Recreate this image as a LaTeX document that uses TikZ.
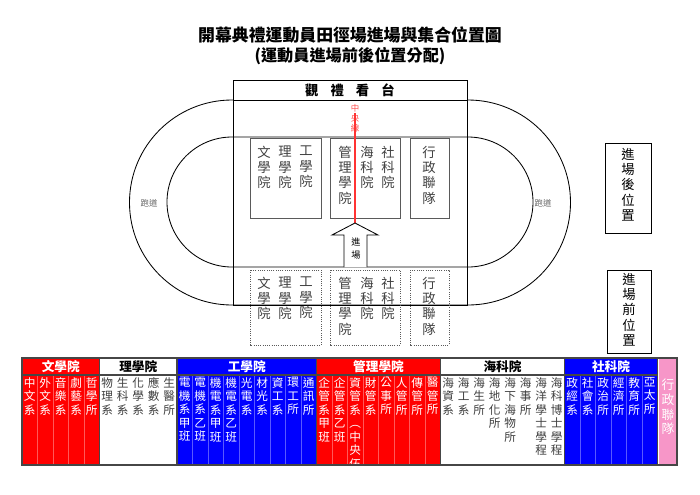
\documentclass[tikz,border=0pt]{standalone}
\usepackage{fontspec}
\setmainfont{Noto Sans CJK TC}
\usetikzlibrary{positioning}
\definecolor{fieldGray}{RGB}{90, 90, 90}
\definecolor{tableRed}{RGB}{255, 0, 0}
\definecolor{tableBlue}{RGB}{0, 0, 255}
\definecolor{tablePink}{RGB}{247, 150, 200}
\definecolor{tableEdge}{RGB}{70, 70, 70}

\begin{document}
\begin{tikzpicture}[
        x=0.025cm, y=-0.025cm,
        line/.style={draw=black, line width=0.6pt},
        spot/.style={draw=fieldGray, line width=0.6pt},
        col/.style={anchor=north, align=center, inner sep=0pt, font=\fontsize{9.5}{10.8}\selectfont, text=black!75},
        cell/.style={anchor=north, align=center, inner sep=0pt, font=\fontsize{8.3}{9.6}\selectfont},
        head/.style={font=\fontsize{9}{10}\selectfont\bfseries, inner sep=0pt},
        group/.style={draw=tableEdge, line width=1.2pt}
    ]
        \useasboundingbox (0,0) rectangle (700,495);

        % Titles
        \node[font=\fontsize{12}{14}\selectfont\bfseries] (title) at (350,35) {開幕典禮運動員田徑場進場與集合位置圖};
        \node[font=\fontsize{11.5}{14}\selectfont\bfseries] (subtitle) at (350,56) {(運動員進場前後位置分配)};

        % Track
        \draw[line] (468,100) -- (232,100) arc (270:90:102.5) -- (468,305) arc (90:-90:102.5);
        \draw[line] (468,137) -- (232,137) arc (270:90:65) -- (468,267) arc (90:-90:65);
        \draw[line] (233,80) rectangle (467,305);
        \draw[line, fill=white] (233,80) rectangle (467,100);
        \node[font=\fontsize{9.5}{11}\selectfont\bfseries] (stand) at (350,90) {觀\hspace{0.9em}禮\hspace{0.9em}看\hspace{0.9em}台};
        \node[font=\fontsize{6}{7}\selectfont, text=black!60] (runL) at (149,203) {跑道};
        \node[font=\fontsize{6}{7}\selectfont, text=black!60] (runR) at (543,203) {跑道};

        % After entering
        \draw[spot] (250,138) rectangle (321,218);
        \draw[spot] (330,138) rectangle (400,218);
        \draw[spot] (410,138) rectangle (449,218);
        \node[col] (a1) at (264,146) {文\\學\\院};
        \node[col] (a2) at (285,146) {理\\學\\院};
        \node[col] (a3) at (306,146) {工\\學\\院};
        \node[col] (a4) at (345,146) {管\\理\\學\\院};
        \node[col] (a5) at (367,146) {海\\科\\院};
        \node[col] (a6) at (388,146) {社\\科\\院};
        \node[col] (a7) at (429,146) {行\\政\\聯\\隊};

        % Center line and entry arrow
        \node[cell, font=\fontsize{6}{7.2}\selectfont, text=red!70] (mid) at (355,104) {中\\央\\線};
        \coordinate (midTop) at (355,113);
        \coordinate (midEnd) at (355,223);
        \draw[red!80, line width=1pt] (midTop) -- (midEnd);
        \draw[line, fill=white] (344,267) -- (344,235) -- (332,235) -- (355,223) -- (378,235) -- (367,235) -- (367,267);
        \node[cell, font=\fontsize{6.5}{9}\selectfont] (enter) at (356,238) {進\\場};

        % Before entering
        \draw[spot, densely dotted] (250,270) rectangle (321,345);
        \draw[spot, densely dotted] (330,270) rectangle (400,345);
        \draw[spot, densely dotted] (410,270) rectangle (449,345);
        \node[col] (b1) at (264,277) {文\\學\\院};
        \node[col] (b2) at (285,277) {理\\學\\院};
        \node[col] (b3) at (306,277) {工\\學\\院};
        \node[col] (b4) at (345,277) {管\\理\\學\\院};
        \node[col] (b5) at (367,277) {海\\科\\院};
        \node[col] (b6) at (388,277) {社\\科\\院};
        \node[col] (b7) at (429,277) {行\\政\\聯\\隊};

        % Legend boxes
        \draw[line] (605,143) rectangle (651,233);
        \draw[line] (607,270) rectangle (651,353);
        \node[col, text=black] (after) at (628,148) {進\\場\\後\\位\\置};
        \node[col, text=black] (before) at (629,273) {進\\場\\前\\位\\置};

        % Table
        \fill[tableRed] (22,358) rectangle (99.5,465);
        \fill[white] (99.5,358) rectangle (177,465);
        \fill[tableBlue] (177,358) rectangle (316.5,465);
        \fill[tableRed] (316.5,358) rectangle (440.5,465);
        \fill[white] (440.5,358) rectangle (564.5,465);
        \fill[tableBlue] (564.5,358) rectangle (657.5,465);
        \fill[tablePink] (659,358) rectangle (677,465);
        \foreach \g in {0,...,40}
            \draw[white, opacity=0.35, line width=0.4pt] (22+15.5*\g,375) -- (22+15.5*\g,465);

        \foreach \t [count=\i from 0] in {中\\文\\系, 外\\文\\系, 音\\樂\\系, 劇\\藝\\系, 哲\\學\\所}
            \node[cell, text=white] (wen\i) at (29.75+15.5*\i,377) {\t};
        \foreach \t [count=\i from 5] in {物\\理\\系, 生\\科\\系, 化\\學\\系, 應\\數\\系, 生\\醫\\所}
            \node[cell, text=black!75] (li\i) at (29.75+15.5*\i,377) {\t};
        \foreach \t [count=\i from 10] in {電\\機\\系\\甲\\班, 電\\機\\系\\乙\\班, 機\\電\\系\\甲\\班, 機\\電\\系\\乙\\班, 光\\電\\系, 材\\光\\系, 資\\工\\系, 環\\工\\所, 通\\訊\\所}
            \node[cell, text=white] (gong\i) at (29.75+15.5*\i,377) {\t};
        \foreach \t [count=\i from 19] in {企\\管\\系\\甲\\班, 企\\管\\系\\乙\\班, 資\\管\\系\\︵\\中\\央\\伍\\︶, 財\\管\\系, 公\\事\\所, 人\\管\\所, 傳\\管\\所, 醫\\管\\所}
            \node[cell, text=white] (guan\i) at (29.75+15.5*\i,377) {\t};
        \foreach \t [count=\i from 27] in {海\\資\\系, 海\\工\\系, 海\\生\\所, 海\\地\\化\\所, 海\\下\\海\\物\\所, 海\\事\\所, 海\\洋\\學\\士\\學\\程, 海\\科\\博\\士\\學\\程}
            \node[cell, text=black!75] (hai\i) at (29.75+15.5*\i,377) {\t};
        \foreach \t [count=\i from 35] in {政\\經\\系, 社\\會\\系, 政\\治\\所, 經\\濟\\所, 教\\育\\所, 亞\\太\\所}
            \node[cell, text=white] (she\i) at (29.75+15.5*\i,377) {\t};
        \node[cell, anchor=center, text=white, font=\fontsize{9}{10.5}\selectfont] (xing) at (668,407) {行\\政\\聯\\隊};

        \draw[group] (22,358) rectangle (99.5,465);
        \draw[group] (99.5,358) rectangle (177,465);
        \draw[group] (177,358) rectangle (316.5,465);
        \draw[group] (316.5,358) rectangle (440.5,465);
        \draw[group] (440.5,358) rectangle (564.5,465);
        \draw[group] (564.5,358) rectangle (657.5,465);
        \draw[group] (657.5,358) rectangle (677,465);
        \draw[group] (22,375) -- (657.5,375);
        \node[head, text=white] (h1) at (60.75,366.5) {文學院};
        \node[head] (h2) at (138.25,366.5) {理學院};
        \node[head, text=white] (h3) at (246.75,366.5) {工學院};
        \node[head, text=white] (h4) at (378.5,366.5) {管理學院};
        \node[head] (h5) at (502.5,366.5) {海科院};
        \node[head, text=white] (h6) at (611,366.5) {社科院};
    \end{tikzpicture}
\end{document}
